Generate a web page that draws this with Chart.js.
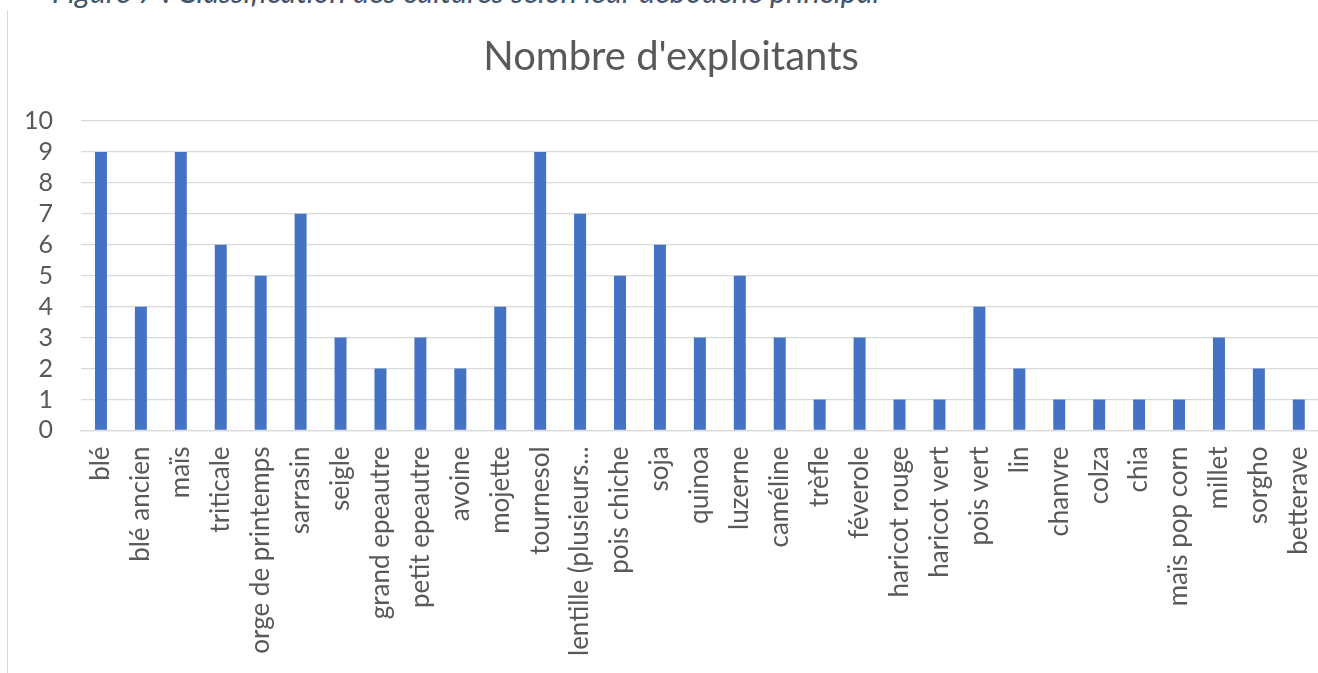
<!DOCTYPE html>
<html>
<head>
<meta charset="utf-8">
<script src="https://cdn.jsdelivr.net/npm/chart.js@4.4.0/dist/chart.umd.min.js"></script>
<style>
  html, body { margin: 0; padding: 0; background: #ffffff; overflow: hidden; }
  #wrap { position: relative; width: 1318px; height: 673px; overflow: hidden; }
  #caption { position: absolute; left: 52px; top: -26px; font-family: Lato, "Open Sans", sans-serif; font-style: italic; font-size: 30.6px; line-height: 36px; color: #44546A; white-space: nowrap; }
  #frame { position: absolute; left: 7px; top: 10px; width: 1311px; height: 663px; border-left: 1px solid #d9d9d9; }
  #box { position: absolute; left: -8px; top: 10px; width: 1354px; height: 663px; }
</style>
</head>
<body>
<div id="wrap">
  <div id="caption">Figure 7 : Classification des cultures selon leur débouché principal</div>
  <div id="frame"></div>
  <div id="box"><canvas id="c"></canvas></div>
</div>
<script>
const categories = ["blé", "blé ancien", "maïs", "triticale", "orge de printemps", "sarrasin", "seigle", "grand epeautre", "petit epeautre", "avoine", "mojette", "tournesol", "lentille (plusieurs...", "pois chiche", "soja", "quinoa", "luzerne", "caméline", "trèfle", "féverole", "haricot rouge", "haricot vert", "pois vert", "lin", "chanvre", "colza", "chia", "maïs pop corn", "millet", "sorgho", "betterave"];
const exploitants = [9, 4, 9, 6, 5, 7, 3, 2, 3, 2, 4, 9, 7, 5, 6, 3, 5, 3, 1, 3, 1, 1, 4, 2, 1, 1, 1, 1, 3, 2, 1];
const yTicks = [0, 1, 2, 3, 4, 5, 6, 7, 8, 9, 10];
const chartTitle = "Nombre d'exploitants";

const FONT = 'Lato, "Open Sans", sans-serif';
const GREY = '#595959';

new Chart(document.getElementById('c'), {
  type: 'bar',
  data: {
    labels: categories,
    datasets: [{
      label: chartTitle,
      data: exploitants,
      backgroundColor: '#4472C4',
      borderWidth: 0,
      barPercentage: 0.3,
      categoryPercentage: 1.0
    }]
  },
  options: {
    responsive: true,
    maintainAspectRatio: false,
    animation: false,
    layout: { padding: { left: 4, right: 0, top: 0, bottom: 1 } },
    plugins: {
      legend: { display: false },
      tooltip: { enabled: false },
      title: {
        display: true,
        text: chartTitle,
        color: GREY,
        font: { family: FONT, size: 40, weight: 'normal' },
        padding: { top: 23, bottom: 40 }
      }
    },
    scales: {
      x: {
        grid: { display: false, drawTicks: false },
        border: { display: true, color: '#d9d9d9', width: 1.3 },
        ticks: {
          color: GREY,
          font: { family: FONT, size: 26 },
          maxRotation: 90,
          minRotation: 90,
          autoSkip: false,
          padding: 16
        }
      },
      y: {
        min: 0,
        max: 10,
        afterBuildTicks: (axis) => { axis.ticks = yTicks.map(v => ({ value: v })); },
        grid: { color: '#d9d9d9', lineWidth: 1.3, drawTicks: false },
        border: { display: false },
        ticks: {
          color: GREY,
          font: { family: FONT, size: 25 },
          padding: 28,
          autoSkip: false
        }
      }
    }
  }
});
</script>
</body>
</html>
